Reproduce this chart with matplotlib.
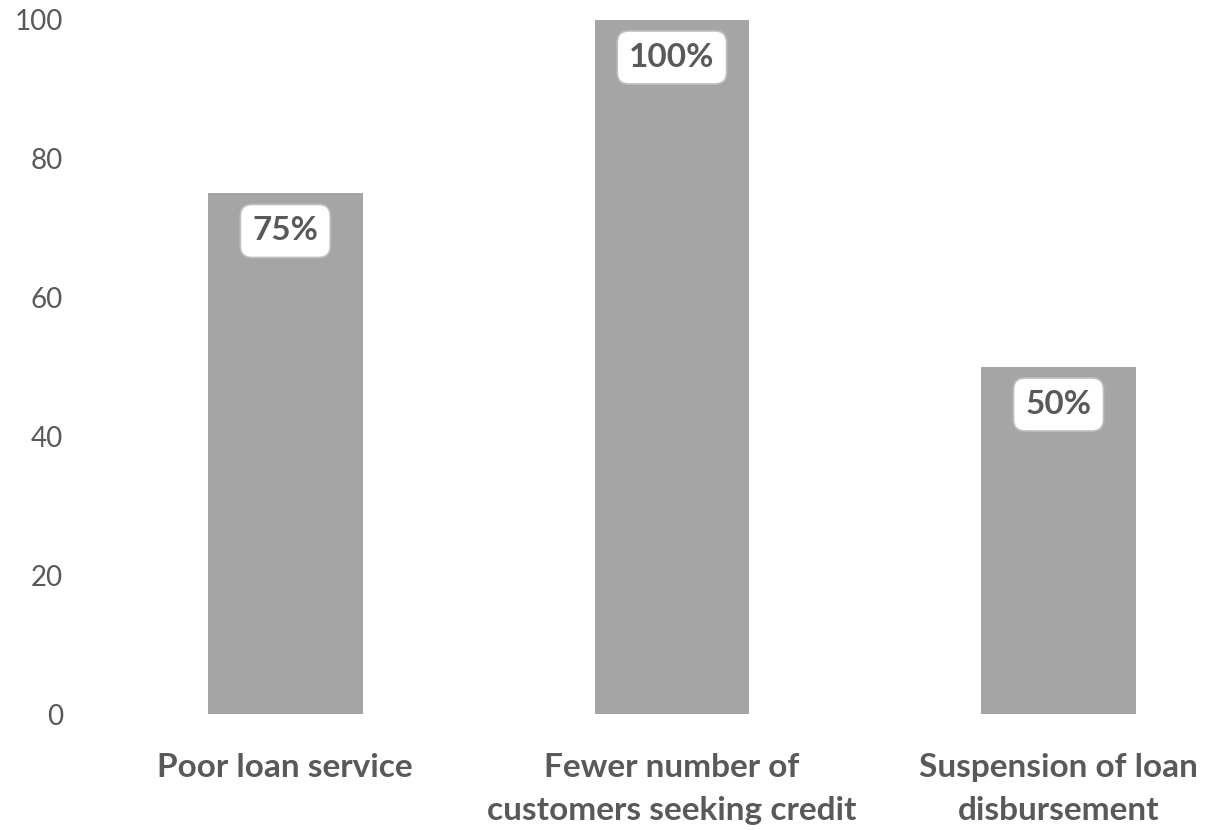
import matplotlib
matplotlib.use("Agg")
import matplotlib.pyplot as plt

categories = ["Poor loan service", "Fewer number of\ncustomers seeking credit", "Suspension of loan\ndisbursement"]
values = [75, 100, 50]
yticks = [0, 20, 40, 60, 80, 100]

plt.rcParams['font.family'] = ['Lato', 'DejaVu Sans']
text_color = "#595959"
bar_color = "#A5A5A5"

W, H = 1212, 830
fig = plt.figure(figsize=(W / 100, H / 100), dpi=100)
ax = fig.add_axes([92 / W, 1 - 714 / H, (W - 92) / W, (714 - 20) / H])

x = list(range(len(categories)))
ax.bar(x, values, width=0.40, color=bar_color, zorder=2)
ax.set_xlim(-0.5, 2.397)
ax.set_ylim(0, 100)
ax.set_yticks(yticks)
ax.set_yticklabels([str(t) for t in yticks], fontsize=20, color=text_color)
ax.set_xticks(x)
ax.set_xticklabels(categories, fontsize=24, fontweight="bold", color=text_color, linespacing=1.6)
ax.tick_params(axis="both", length=0)
ax.tick_params(axis="y", pad=21)
ax.tick_params(axis="x", pad=28)
for s in ax.spines.values():
    s.set_visible(False)

for xi, v in zip(x, values):
    ax.annotate(f"{v}%", xy=(xi, v), xytext=(0, -27), textcoords="offset points",
                ha="center", va="center", fontsize=24, fontweight="bold", color=text_color,
                bbox=dict(boxstyle="round,pad=0.36,rounding_size=0.35", fc="white", ec="#BFBFBF", lw=1.2),
                zorder=3)

fig.savefig("out.png", dpi=100)
